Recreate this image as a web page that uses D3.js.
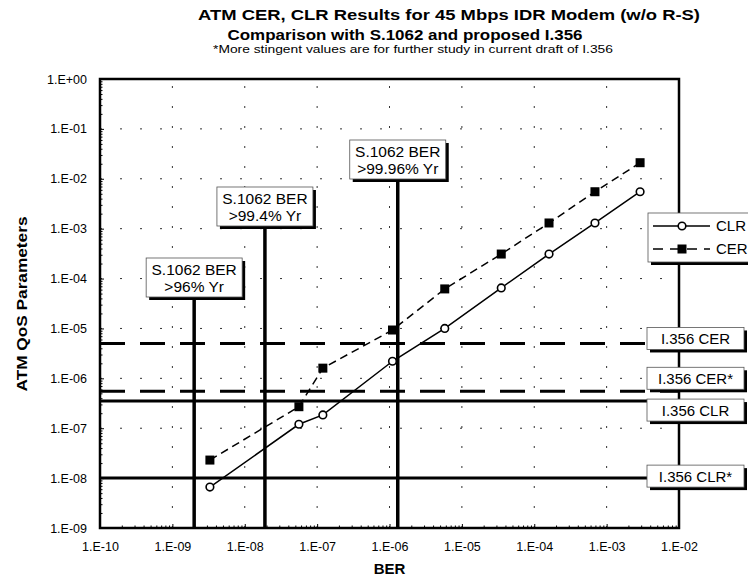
<!DOCTYPE html>
<html>
<head>
<meta charset="utf-8">
<script src="https://cdn.jsdelivr.net/npm/d3@7"></script>
<style>
    body { margin: 0; background: #fff; }
    svg { display: block; font-family: "Liberation Sans", Arial, sans-serif; }
</style>
</head>
<body>
<div class="chart"></div>
<script>
// measured BER points of the modem (x) and resulting cell loss / cell error ratios
const ber = [3.3e-9, 5.6e-8, 1.2e-7, 1.1e-6, 5.8e-6, 3.5e-5, 1.6e-4, 6.9e-4, 2.9e-3];
const clr = [6.6e-9, 1.2e-7, 1.85e-7, 2.2e-6, 1.0e-5, 6.5e-5, 3.1e-4, 1.3e-3, 5.5e-3];
const cer = [2.3e-8, 2.7e-7, 1.6e-6, 9.3e-6, 6.2e-5, 3.1e-4, 1.3e-3, 5.5e-3, 2.1e-2];

// S.1062 BER limits (vertical markers)
const s1062Ber = [2e-9, 1.9e-8, 1.3e-6];
const s1062Labels = [">96% Yr", ">99.4% Yr", ">99.96% Yr"];

// I.356 objectives (horizontal markers)
const i356Values = [5e-6, 5.5e-7, 3.5e-7, 1e-8];
const i356Labels = ["I.356 CER", "I.356 CER*", "I.356 CLR", "I.356 CLR*"];
const i356Dashed = [true, true, false, false];

const xTickValues = d3.range(-10, -1).map(e => Math.pow(10, e));
const yTickValues = d3.range(-9, 1).map(e => Math.pow(10, e));

const dimensions = {
    width: 748,
    height: 582,
    margin: {left: 100, right: 69, top: 79, bottom: 54}
};
// layout of the annotation boxes
const s1062BoxTop = [258, 187, 140];
const i356BoxOffset = [-16, -24, -2, -13];

const svg = d3.select('.chart').append('svg')
    .attr('width', dimensions.width)
    .attr('height', dimensions.height);

const x = d3.scaleLog()
    .domain([1e-10, 1e-2])
    .range([dimensions.margin.left, dimensions.width - dimensions.margin.right]);
const y = d3.scaleLog()
    .domain([1e-9, 1])
    .range([dimensions.height - dimensions.margin.bottom, dimensions.margin.top]);

const [x0, x1] = x.range();
const [y0, y1] = y.range();

const fmt = d => {
    const e = Math.round(Math.log10(d));
    return '1.E' + (e < 0 ? '-' : '+') + String(Math.abs(e)).padStart(2, '0');
};
const minorTicks = (lo, hi) => d3.range(lo, hi).flatMap(e => d3.range(2, 10).map(m => m * Math.pow(10, e)));

// dotted grid
svg.append('g')
    .selectAll('line')
    .data(xTickValues.slice(1, -1))
    .join('line')
    .attr('x1', d => x(d)).attr('x2', d => x(d))
    .attr('y1', y0).attr('y2', y1)
    .attr('stroke', '#333').attr('stroke-dasharray', '2,18');
svg.append('g')
    .selectAll('line')
    .data(yTickValues.slice(1, -1))
    .join('line')
    .attr('y1', d => y(d)).attr('y2', d => y(d))
    .attr('x1', x0).attr('x2', x1)
    .attr('stroke', '#333').attr('stroke-dasharray', '2,18');

// axes
const tickFont = '12.5px "Liberation Sans", Arial, sans-serif';
svg.append('g').attr('transform', `translate(0,${y0})`)
    .call(d3.axisBottom(x).tickValues(xTickValues).tickFormat(fmt).tickSize(-4).tickPadding(14))
    .call(g => g.select('.domain').remove())
    .call(g => g.selectAll('text').style('font', tickFont).attr('fill', '#000'));
svg.append('g').attr('transform', `translate(0,${y0})`)
    .call(d3.axisBottom(x).tickValues(minorTicks(-10, -2)).tickFormat('').tickSize(-2.5))
    .call(g => g.select('.domain').remove());
svg.append('g').attr('transform', `translate(${x0},0)`)
    .call(d3.axisLeft(y).tickValues(yTickValues).tickFormat(fmt).tickSize(-4).tickPadding(13))
    .call(g => g.select('.domain').remove())
    .call(g => g.selectAll('text').style('font', tickFont).attr('fill', '#000'));
svg.append('g').attr('transform', `translate(${x0},0)`)
    .call(d3.axisLeft(y).tickValues(minorTicks(-9, 0)).tickFormat('').tickSize(-2.5))
    .call(g => g.select('.domain').remove());

// data curves
const line = d3.line().x(d => x(d[0])).y(d => y(d[1]));
svg.append('path')
    .datum(d3.zip(ber, cer))
    .attr('d', line)
    .attr('fill', 'none').attr('stroke', '#000').attr('stroke-width', 1.5)
    .attr('stroke-dasharray', '8,5');
svg.append('path')
    .datum(d3.zip(ber, clr))
    .attr('d', line)
    .attr('fill', 'none').attr('stroke', '#000').attr('stroke-width', 1.5);

// I.356 horizontal lines
svg.append('g')
    .selectAll('line')
    .data(i356Values)
    .join('line')
    .attr('x1', x0).attr('x2', x1)
    .attr('y1', d => y(d)).attr('y2', d => y(d))
    .attr('stroke', '#000').attr('stroke-width', 3)
    .attr('stroke-dasharray', (d, i) => i356Dashed[i] ? '25,15' : null);

// S.1062 vertical lines
svg.append('g')
    .selectAll('line')
    .data(s1062Ber)
    .join('line')
    .attr('x1', d => x(d)).attr('x2', d => x(d))
    .attr('y1', (d, i) => s1062BoxTop[i] + 39).attr('y2', y0)
    .attr('stroke', '#000').attr('stroke-width', 3.5);

// markers
svg.append('g')
    .selectAll('rect')
    .data(d3.zip(ber, cer))
    .join('rect')
    .attr('x', d => x(d[0]) - 4.5).attr('y', d => y(d[1]) - 4.5)
    .attr('width', 9).attr('height', 9)
    .attr('fill', '#000');
svg.append('g')
    .selectAll('circle')
    .data(d3.zip(ber, clr))
    .join('circle')
    .attr('cx', d => x(d[0])).attr('cy', d => y(d[1]))
    .attr('r', 3.8)
    .attr('fill', '#fff').attr('stroke', '#000').attr('stroke-width', 1.6);

// frame
svg.append('rect')
    .attr('x', x0).attr('y', y1)
    .attr('width', x1 - x0).attr('height', y0 - y1)
    .attr('fill', 'none').attr('stroke', '#000').attr('stroke-width', 2.5);

const shadowBox = (g, bx, by, w, h) => {
    g.append('rect').attr('x', bx + 3).attr('y', by + 3).attr('width', w).attr('height', h).attr('fill', '#000');
    g.append('rect').attr('x', bx).attr('y', by).attr('width', w).attr('height', h)
        .attr('fill', '#fff').attr('stroke', '#555').attr('stroke-width', 0.8);
};
const boxFont = '15px "Liberation Sans", Arial, sans-serif';

// S.1062 label boxes
s1062Ber.forEach((d, i) => {
    const g = svg.append('g');
    const cx = x(d), top = s1062BoxTop[i];
    shadowBox(g, cx - 48, top, 96, 39);
    g.append('text').attr('x', cx).attr('y', top + 17)
        .attr('text-anchor', 'middle').style('font', '15.5px "Liberation Sans", Arial, sans-serif').text('S.1062 BER');
    g.append('text').attr('x', cx).attr('y', top + 34)
        .attr('text-anchor', 'middle').style('font', '15.5px "Liberation Sans", Arial, sans-serif').text(s1062Labels[i]);
});

// I.356 label boxes
i356Values.forEach((d, i) => {
    const g = svg.append('g');
    const top = y(d) + i356BoxOffset[i];
    shadowBox(g, 647, top, 97, 22);
    g.append('text').attr('x', 647 + 48.5).attr('y', top + 16.5)
        .attr('text-anchor', 'middle').style('font', boxFont).text(i356Labels[i]);
});

// legend
const legend = svg.append('g');
shadowBox(legend, 648, 213, 110, 49);
legend.append('line').attr('x1', 653).attr('x2', 710).attr('y1', 226).attr('y2', 226)
    .attr('stroke', '#000').attr('stroke-width', 1.5);
legend.append('circle').attr('cx', 682).attr('cy', 226).attr('r', 3.8)
    .attr('fill', '#fff').attr('stroke', '#000').attr('stroke-width', 1.6);
legend.append('line').attr('x1', 653).attr('x2', 710).attr('y1', 249).attr('y2', 249)
    .attr('stroke', '#000').attr('stroke-width', 1.5).attr('stroke-dasharray', '10,7');
legend.append('rect').attr('x', 677.5).attr('y', 244.5).attr('width', 9).attr('height', 9).attr('fill', '#000');
legend.append('text').attr('x', 716).attr('y', 231).style('font', boxFont).text('CLR');
legend.append('text').attr('x', 716).attr('y', 254).style('font', boxFont).text('CER');

// titles
const titleFont = 'bold 15px "Liberation Sans", Arial, sans-serif';
svg.append('text').attr('x', 449).attr('y', 20).attr('text-anchor', 'middle')
    .attr('textLength', 502).attr('lengthAdjust', 'spacingAndGlyphs')
    .style('font', titleFont).text('ATM CER, CLR Results for 45 Mbps IDR Modem (w/o R-S)');
svg.append('text').attr('x', 405).attr('y', 40).attr('text-anchor', 'middle')
    .attr('textLength', 355).attr('lengthAdjust', 'spacingAndGlyphs')
    .style('font', titleFont).text('Comparison with S.1062 and proposed I.356');
svg.append('text').attr('x', 413).attr('y', 53).attr('text-anchor', 'middle')
    .attr('textLength', 400).attr('lengthAdjust', 'spacingAndGlyphs')
    .style('font', '11px "Liberation Sans", Arial, sans-serif')
    .text('*More stingent values are for further study in current draft of I.356');

// axis titles
svg.append('text').attr('x', (x0 + x1) / 2).attr('y', 574).attr('text-anchor', 'middle')
    .style('font', 'bold 15px "Liberation Sans", Arial, sans-serif').text('BER');
svg.append('text')
    .attr('transform', `translate(27,304) rotate(-90)`)
    .attr('text-anchor', 'middle')
    .attr('textLength', 175).attr('lengthAdjust', 'spacingAndGlyphs')
    .style('font', 'bold 14px "Liberation Sans", Arial, sans-serif')
    .text('ATM QoS Parameters');
</script>
</body>
</html>
